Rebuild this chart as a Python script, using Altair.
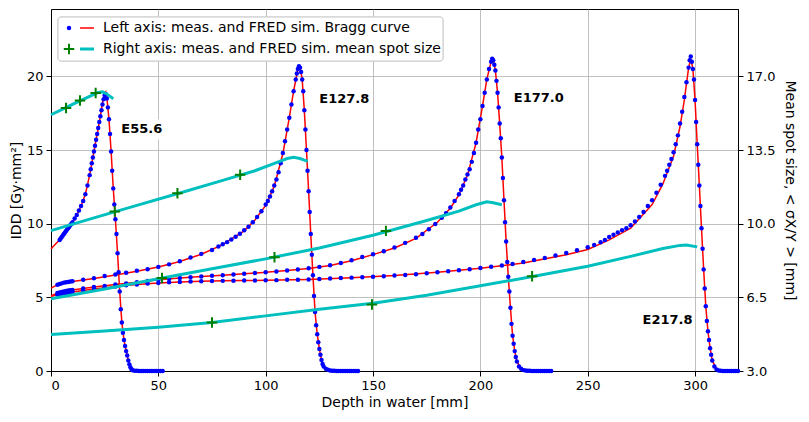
import altair as alt
import pandas as pd

# ---------------- data ----------------
energies = ["E55.6", "E127.8", "E177.0", "E217.8"]

# measured IDD (blue dots), left axis
m55_depth = [4, 4.5, 5, 5.5, 6, 6.5, 7, 7.5, 8, 8.5, 9, 9.5, 10, 11, 12, 13, 14, 15, 16, 17, 18, 18.5, 19, 19.5,
             20, 20.5, 21, 21.5, 22, 22.5, 23, 23.5, 24, 24.5, 25, 25.5, 26, 26.5, 27, 27.5, 28, 28.5, 29, 29.5,
             30, 30.5, 31, 31.5, 32, 32.5, 33, 33.5, 34, 34.5, 35, 35.5, 36, 36.5, 37, 37.5, 38, 39, 40, 41, 42,
             43, 44, 45, 46, 47, 48, 49, 50, 51, 52]
m55_dose = [8.9, 9.0, 9.1, 9.2, 9.3, 9.4, 9.5, 9.6, 9.7, 9.8, 9.9, 10.0, 10.1, 10.35, 10.6, 10.9, 11.2, 11.55, 12.0,
            12.6, 13.3, 13.7, 14.1, 14.5, 14.9, 15.3, 15.7, 16.1, 16.5, 16.9, 17.3, 17.7, 18.1, 18.45, 18.7, 18.8,
            18.5, 17.9, 17.1, 16.1, 14.9, 13.6, 12.4, 11.3, 10.3, 9.3, 8.0, 6.7, 5.4, 4.2, 3.3, 2.6, 2.1, 1.7,
            1.35, 1.05, 0.72, 0.45, 0.25, 0.12, 0.05, 0.02, 0.01, 0, 0, 0, 0, 0, 0, 0, 0, 0, 0, 0, 0]

m127_depth = [3, 4, 5, 6, 7, 8, 9, 10, 15, 20, 25, 30, 35, 40, 45, 50, 55, 60, 65, 70, 75, 78, 80, 82, 84, 86, 88,
              90, 92, 94, 96, 98, 100, 101, 102, 103, 104, 105, 106, 107, 108, 109, 110, 111, 112, 113, 114, 114.5,
              115, 115.5, 116, 116.5, 117, 117.5, 118, 118.5, 119, 119.5, 120, 120.5, 121, 121.5, 122, 122.5, 123,
              123.5, 124, 124.5, 125, 125.5, 126, 126.5, 127, 128, 129, 130, 131, 132, 133, 134, 135, 136, 137,
              138, 139, 140, 141, 142, 143]
m127_dose = [5.85, 5.9, 5.95, 6.0, 6.02, 6.05, 6.07, 6.1, 6.2, 6.3, 6.45, 6.55, 6.67, 6.8, 6.91, 7.07, 7.24, 7.45,
             7.7, 7.95, 8.22, 8.45, 8.6, 8.75, 8.93, 9.12, 9.32, 9.55, 9.8, 10.1, 10.45, 10.85, 11.3, 11.55, 11.85,
             12.2, 12.6, 13.0, 13.5, 14.1, 14.8, 15.6, 16.4, 17.2, 18.1, 19.0, 19.8, 20.2, 20.5, 20.7, 20.6, 20.3,
             19.8, 19.0, 17.7, 16.4, 15.0, 13.6, 12.2, 10.8, 9.3, 7.9, 6.5, 5.1, 4.0, 3.1, 2.5, 1.95, 1.5, 1.1,
             0.75, 0.47, 0.3, 0.15, 0.08, 0.04, 0.02, 0.01, 0, 0, 0, 0, 0, 0, 0, 0, 0, 0, 0]

m177_depth = [3, 4, 5, 6, 7, 8, 9, 10, 15, 20, 25, 30, 35, 40, 45, 50, 55, 60, 65, 70, 75, 80, 85, 90, 95, 100, 105,
              110, 115, 120, 125, 130, 135, 140, 145, 150, 155, 160, 165, 170, 173, 176, 179, 182, 184, 186, 188,
              190, 191, 192, 193, 194, 195, 196, 197, 198, 199, 200, 201, 202, 203, 204, 205, 205.5, 206, 206.5,
              207, 207.5, 208, 208.5, 209, 209.5, 210, 210.5, 211, 211.5, 212, 212.5, 213, 213.5, 214, 214.5, 215,
              215.5, 216, 216.5, 217, 218, 219, 220, 221, 222, 223, 224, 225, 226, 227, 228, 229, 230, 231, 232,
              233]
m177_dose = [5.3, 5.33, 5.37, 5.4, 5.43, 5.46, 5.48, 5.5, 5.6, 5.7, 5.78, 5.87, 5.95, 6.03, 6.12, 6.2, 6.26, 6.31,
             6.36, 6.41, 6.46, 6.5, 6.55, 6.6, 6.65, 6.7, 6.76, 6.82, 6.89, 6.97, 7.07, 7.18, 7.33, 7.52, 7.74,
             7.93, 8.13, 8.38, 8.7, 9.05, 9.3, 9.62, 9.98, 10.4, 10.72, 11.1, 11.55, 12.0, 12.3, 12.6, 13.0, 13.35,
             13.7, 14.2, 14.8, 15.5, 16.4, 17.1, 18.0, 18.9, 19.8, 20.5, 21.0, 21.2, 21.1, 20.8, 20.4, 19.7, 18.9,
             17.9, 16.8, 15.8, 14.5, 13.1, 11.6, 10.1, 8.8, 7.4, 6.4, 5.4, 4.3, 3.2, 2.4, 1.85, 1.35, 0.95, 0.65,
             0.3, 0.15, 0.06, 0.03, 0.02, 0.01, 0, 0, 0, 0, 0, 0, 0, 0, 0, 0]

m217_depth = [3, 4, 5, 6, 7, 8, 9, 10, 15, 20, 25, 30, 35, 40, 45, 50, 55, 60, 65, 70, 75, 80, 85, 90, 95, 100, 105,
              110, 115, 120, 125, 130, 135, 140, 145, 150, 155, 160, 165, 170, 175, 180, 185, 190, 195, 200, 205,
              210, 215, 220, 225, 230, 235, 240, 245, 250, 253, 256, 258, 260, 262, 264, 266, 268, 270, 272, 274,
              276, 278, 280, 282, 284, 286, 287, 288, 289, 290, 291, 292, 293, 294, 295, 296, 297, 297.5, 298,
              298.5, 299, 299.5, 300, 300.5, 301, 301.5, 302, 302.5, 303, 303.5, 304, 304.5, 305, 305.5, 306,
              306.5, 307, 307.5, 308, 309, 310, 311, 312, 313, 314, 315, 316, 317, 318, 319, 320]
m217_dose = [5.2, 5.23, 5.25, 5.28, 5.3, 5.32, 5.34, 5.36, 5.47, 5.57, 5.66, 5.74, 5.82, 5.88, 5.94, 5.98, 6.02,
             6.05, 6.07, 6.09, 6.11, 6.12, 6.13, 6.14, 6.15, 6.16, 6.17, 6.19, 6.2, 6.22, 6.25, 6.28, 6.31, 6.34,
             6.37, 6.4, 6.44, 6.48, 6.52, 6.57, 6.63, 6.7, 6.77, 6.84, 6.91, 6.99, 7.08, 7.17, 7.27, 7.4, 7.53,
             7.68, 7.84, 8.01, 8.2, 8.4, 8.55, 8.74, 8.9, 9.1, 9.25, 9.4, 9.55, 9.7, 9.9, 10.15, 10.45, 10.8, 11.2,
             11.6, 12.1, 12.65, 13.25, 13.6, 14.0, 14.4, 14.85, 15.4, 16.0, 16.8, 17.6, 18.6, 19.6, 20.6, 21.1,
             21.35, 21.0, 20.5, 19.8, 18.4, 16.9, 15.4, 14.0, 12.6, 11.2, 9.7, 8.3, 6.9, 5.6, 4.4, 3.4, 2.7, 2.1,
             1.55, 1.1, 0.72, 0.3, 0.1, 0.03, 0.01, 0, 0, 0, 0, 0, 0, 0, 0]

# FRED simulated IDD (red lines), left axis
s55_depth = [0, 2, 4, 6, 8, 10, 12, 14, 16, 18, 20, 22, 23, 24, 25, 25.5, 26, 27, 28, 29, 30, 31, 32, 33, 34, 35,
             36, 37, 38, 40]
s55_dose = [8.28, 8.6, 8.9, 9.3, 9.7, 10.1, 10.6, 11.2, 12.0, 13.3, 14.9, 16.5, 17.3, 18.2, 18.85, 18.95, 18.6,
            17.1, 14.9, 12.4, 10.3, 8.0, 5.4, 3.3, 2.1, 1.35, 0.72, 0.25, 0.05, 0]

s127_depth = [0, 3, 6, 10, 20, 30, 40, 50, 60, 70, 80, 90, 95, 100, 104, 108, 111, 113, 115, 116, 117, 118, 119,
              120, 121, 122, 123, 124, 125, 126, 127, 129, 132]
s127_dose = [5.63, 5.85, 6.0, 6.08, 6.28, 6.52, 6.78, 7.06, 7.43, 7.93, 8.58, 9.52, 10.25, 11.25, 12.55, 14.75,
             17.2, 19.0, 20.5, 20.65, 19.8, 17.7, 15.0, 12.2, 9.3, 6.5, 4.0, 2.5, 1.5, 0.75, 0.3, 0.08, 0.01]

s177_depth = [0, 3, 10, 20, 30, 40, 50, 60, 70, 80, 90, 100, 110, 120, 130, 140, 150, 160, 170, 180, 186, 190, 194,
              198, 201, 203, 205, 206, 207, 208, 209, 210, 211, 212, 213, 214, 215, 216, 217, 219, 222]
s177_dose = [5.12, 5.28, 5.5, 5.7, 5.87, 6.03, 6.2, 6.31, 6.41, 6.5, 6.6, 6.7, 6.82, 6.96, 7.16, 7.48, 7.9, 8.35,
             9.0, 10.1, 11.05, 11.95, 13.3, 15.5, 18.0, 19.8, 21.0, 21.15, 20.4, 18.9, 16.8, 14.5, 11.6, 8.8, 6.4,
             4.3, 2.4, 1.35, 0.65, 0.15, 0.02]

s217_depth = [0, 3, 10, 20, 30, 40, 50, 60, 70, 80, 90, 100, 120, 140, 160, 180, 200, 220, 240, 250, 260, 270, 280,
              285, 290, 293, 295, 297, 298, 299, 300, 301, 302, 303, 304, 305, 306, 307, 308, 310, 312]
s217_dose = [5.05, 5.2, 5.36, 5.57, 5.74, 5.88, 5.98, 6.05, 6.09, 6.12, 6.14, 6.16, 6.22, 6.34, 6.48, 6.7, 6.97,
             7.33, 7.9, 8.25, 8.9, 9.7, 11.3, 12.7, 14.6, 16.6, 18.4, 20.6, 21.2, 20.5, 18.4, 15.4, 12.6, 9.7, 6.9,
             4.4, 2.7, 1.55, 0.72, 0.1, 0.01]

# FRED simulated mean spot size (cyan lines), right axis
sp55_depth = [0, 5, 10, 15, 20, 22, 24, 26, 28, 29]
sp55_size = [15.18, 15.42, 15.67, 15.91, 16.15, 16.24, 16.27, 16.17, 16.02, 15.94]
sp127_depth = [0, 20, 40, 60, 80, 95, 105, 110, 113, 116, 118, 119.6]
sp127_size = [9.67, 10.28, 10.87, 11.46, 12.06, 12.52, 12.9, 13.1, 13.16, 13.1, 13.02, 12.97]
sp177_depth = [0, 25, 50, 75, 100, 125, 150, 175, 190, 198, 203, 206, 210]
sp177_size = [6.43, 6.9, 7.38, 7.86, 8.33, 8.85, 9.45, 10.15, 10.6, 10.9, 11.04, 11.0, 10.9]
sp217_depth = [0, 25, 50, 75, 100, 125, 150, 175, 200, 225, 250, 270, 285, 293, 296, 301]
sp217_size = [4.73, 4.9, 5.08, 5.3, 5.62, 5.93, 6.22, 6.6, 7.05, 7.5, 7.98, 8.45, 8.82, 8.97, 8.99, 8.9]

# measured mean spot size (green +), right axis
pm55_depth = [7.0, 13.5, 20.8]
pm55_size = [15.5, 15.86, 16.21]
pm127_depth = [29.7, 58.9, 88.1]
pm127_size = [10.58, 11.45, 12.33]
pm177_depth = [51.7, 104.1, 156.0]
pm177_size = [7.42, 8.41, 9.66]
pm217_depth = [75.0, 149.5, 224.1]
pm217_size = [5.3, 6.16, 7.5]

# energy labels
label_text = ["E55.6", "E127.8", "E177.0", "E217.8"]
label_depth = [42.3, 136.6, 227.2, 287.2]
label_dose = [16.4, 18.5, 18.55, 3.45]

legend_labels = ["Left axis: meas. and FRED sim. Bragg curve",
                 "Right axis: meas. and FRED sim. mean spot size"]

x_ticks = [0, 50, 100, 150, 200, 250, 300]
left_ticks = [0, 5, 10, 15, 20]
right_ticks = [3.0, 6.5, 10.0, 13.5, 17.0]


def long_df(pairs, ycol):
    frames = []
    for name, (xs, ys) in zip(energies, pairs):
        frames.append(pd.DataFrame({"depth": xs, ycol: ys, "energy": name}))
    return pd.concat(frames, ignore_index=True)


meas = long_df([(m55_depth, m55_dose), (m127_depth, m127_dose), (m177_depth, m177_dose),
                (m217_depth, m217_dose)], "dose")
sim = long_df([(s55_depth, s55_dose), (s127_depth, s127_dose), (s177_depth, s177_dose),
               (s217_depth, s217_dose)], "dose")
spot_sim = long_df([(sp55_depth, sp55_size), (sp127_depth, sp127_size), (sp177_depth, sp177_size),
                    (sp217_depth, sp217_size)], "spot")
spot_meas = long_df([(pm55_depth, pm55_size), (pm127_depth, pm127_size), (pm177_depth, pm177_size),
                     (pm217_depth, pm217_size)], "spot")
labels = pd.DataFrame({"depth": label_depth, "dose": label_dose, "text": label_text})

# ---------------- styling ----------------
FONT = "DejaVu Sans"
BLUE, RED, CYAN, GREEN = "#0000ff", "#ff0000", "#00bfbf", "#008000"
LEFT_MAX = 24.58
RIGHT_MIN, RIGHT_MAX = 3.0, 3.0 + 0.7 * 24.58

X = alt.X("depth:Q", scale=alt.Scale(domain=[0, 320], nice=False, zero=False),
          axis=alt.Axis(values=x_ticks, title="Depth in water [mm]", grid=True, titlePadding=3))
Y_left = alt.Y("dose:Q", scale=alt.Scale(domain=[0, LEFT_MAX], nice=False, zero=False),
               axis=alt.Axis(values=left_ticks, title="IDD [Gy·mm²]", grid=True, orient="left",
                             titlePadding=3))
Y_left_noaxis = alt.Y("dose:Q", scale=alt.Scale(domain=[0, LEFT_MAX], nice=False, zero=False), axis=None)
Y_right = alt.Y("spot:Q", scale=alt.Scale(domain=[RIGHT_MIN, RIGHT_MAX], nice=False, zero=False),
                axis=alt.Axis(values=right_ticks, format=".1f", grid=False, orient="right",
                              title="Mean spot size, < σX/Y > [mm]", titlePadding=8))

red_lines = alt.Chart(sim).mark_line(color=RED, strokeWidth=1.5).encode(
    x=X, y=Y_left, detail="energy:N", order="depth:Q")
dots = alt.Chart(meas).mark_point(shape="circle", filled=True, size=20, color=BLUE, opacity=1).encode(
    x=X, y=Y_left)
left = alt.layer(red_lines, dots)

cyan_lines = alt.Chart(spot_sim).mark_line(color=CYAN, strokeWidth=3).encode(
    x=X, y=Y_right, detail="energy:N", order="depth:Q")
pluses = alt.Chart(spot_meas).mark_point(shape="M-1,0L1,0M0,-1L0,1", filled=False, size=110, strokeWidth=2,
                                         color=GREEN, opacity=1).encode(x=X, y=Y_right)
right = alt.layer(cyan_lines, pluses)

box = alt.Chart(labels).mark_point(shape="M-1,-0.385L1,-0.385L1,0.385L-1,0.385Z", filled=True, size=2704,
                                   color="white", opacity=1).encode(x=X, y=Y_left_noaxis)
txt = alt.Chart(labels).mark_text(font=FONT, fontWeight="bold", fontSize=13, color="black",
                                  align="center", baseline="middle").encode(x=X, y=Y_left_noaxis, text="text:N")
lab = alt.layer(box, txt)

# legend (drawn as decoration in pixel space of the plot area)
leg_df = pd.DataFrame({"label": legend_labels})
frame = alt.Chart(leg_df).mark_rect(fill="white", fillOpacity=0.85, stroke="#cccccc", strokeWidth=1,
                                    cornerRadius=3).encode(
    x=alt.value(7), x2=alt.value(392), y=alt.value(8), y2=alt.value(52))
row1 = alt.Chart(leg_df).transform_filter(alt.datum.label == legend_labels[0])
row2 = alt.Chart(leg_df).transform_filter(alt.datum.label == legend_labels[1])
leg_dot = row1.mark_point(shape="circle", filled=True, size=20, color=BLUE, opacity=1).encode(
    x=alt.value(18), y=alt.value(19))
leg_red = row1.mark_rule(color=RED, strokeWidth=1.5).encode(x=alt.value(29), x2=alt.value(43), y=alt.value(19))
leg_t1 = row1.mark_text(font=FONT, fontSize=14, align="left", baseline="middle", color="black").encode(
    x=alt.value(52), y=alt.value(19), text="label:N")
leg_plus = row2.mark_point(shape="M-1,0L1,0M0,-1L0,1", filled=False, size=110, strokeWidth=2, color=GREEN,
                           opacity=1).encode(x=alt.value(18), y=alt.value(40))
leg_cyan = row2.mark_rule(color=CYAN, strokeWidth=3).encode(x=alt.value(29), x2=alt.value(43), y=alt.value(40))
leg_t2 = row2.mark_text(font=FONT, fontSize=14, align="left", baseline="middle", color="black").encode(
    x=alt.value(52), y=alt.value(40), text="label:N")
legend = alt.layer(frame, leg_dot, leg_red, leg_t1, leg_plus, leg_cyan, leg_t2)

chart = alt.layer(left, right, lab, legend).resolve_scale(y="independent").properties(
    width=687, height=362,
    autosize=alt.AutoSizeParams(type="none"),
    padding={"left": 43, "top": 1, "right": 63, "bottom": 43},
).configure_view(stroke="black", strokeWidth=1).configure_axis(
    labelFont=FONT, titleFont=FONT, labelFontSize=13, titleFontSize=14, titleFontWeight="normal",
    labelColor="black", titleColor="black", domainColor="black", tickColor="black", tickSize=5,
    labelPadding=3, gridColor="#b0b0b0", gridWidth=0.8, domainWidth=1,
)

chart.save("out.html", embed_options={"renderer": "svg", "actions": False})
